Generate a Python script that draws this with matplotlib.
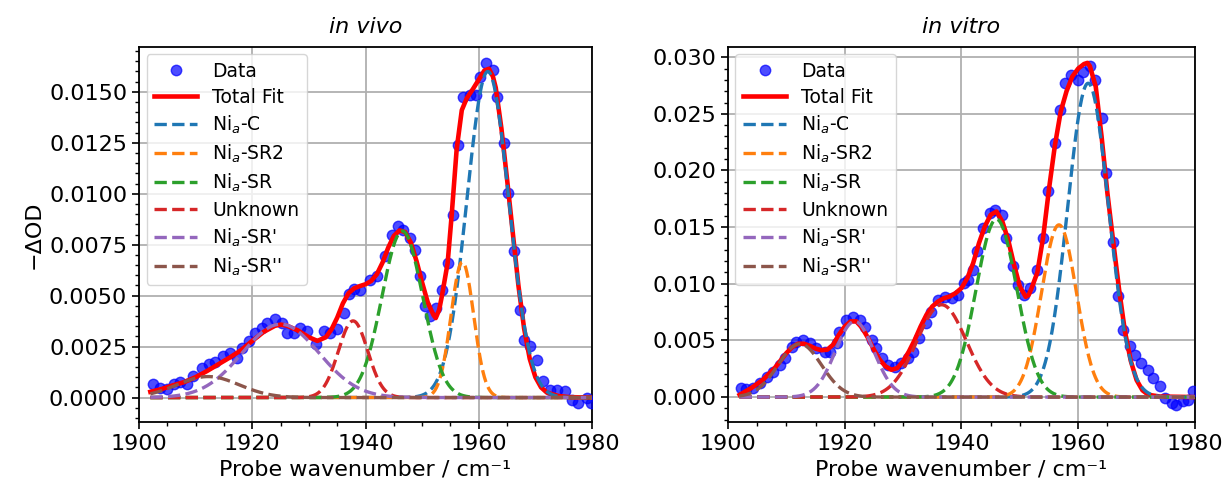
import numpy as np
import matplotlib
matplotlib.use('Agg')
import matplotlib.pyplot as plt

vivo_wn = [1902.4, 1903.7, 1904.9, 1906.1, 1907.3, 1908.4, 1909.6, 1911.1, 1912.3, 1913.5,
           1914.9, 1916.1, 1917.3, 1918.2, 1919.4, 1920.5, 1921.7, 1922.6, 1924.1, 1925.3,
           1926.1, 1927.3, 1928.5, 1929.7, 1931.2, 1932.6, 1933.8, 1935.0, 1936.2, 1937.1,
           1937.9, 1939.1, 1940.8, 1942.0, 1943.4, 1944.6, 1945.8, 1946.7, 1947.9, 1948.7,
           1949.6, 1950.5, 1951.4, 1952.4, 1953.5, 1954.5, 1955.5, 1956.4, 1957.3, 1958.5,
           1959.5, 1960.2, 1961.3, 1962.6, 1963.2, 1964.4, 1965.2, 1966.2, 1967.3, 1968.0,
           1969.0, 1970.2, 1971.4, 1972.6, 1973.8, 1975.2, 1976.4, 1977.6, 1979.1, 1979.8]
vivo_od = [0.00065, 0.00049, 0.00041, 0.00065, 0.00074, 0.00065, 0.00106, 0.00147, 0.00163, 0.00172,
           0.00204, 0.00221, 0.00196, 0.00245, 0.00278, 0.00319, 0.00343, 0.00368, 0.00384, 0.00368,
           0.00319, 0.00319, 0.00343, 0.00327, 0.00261, 0.00327, 0.00319, 0.00335, 0.00417, 0.00507,
           0.00531, 0.00529, 0.00578, 0.00595, 0.00693, 0.00799, 0.00840, 0.00824, 0.00783, 0.00725,
           0.00595, 0.00448, 0.00399, 0.00440, 0.00529, 0.00660, 0.00897, 0.01240, 0.01477, 0.01485,
           0.01485, 0.01575, 0.01640, 0.01608, 0.01477, 0.01248, 0.01003, 0.00717, 0.00431, 0.00284,
           0.00251, 0.00186, 0.00080, 0.00039, 0.00039, 0.00031, -0.00010, -0.00026, -0.00002, -0.00026]

# Curva do ajuste total - in vivo
vivo_fit_wn = [1902, 1904, 1906, 1908, 1910, 1912, 1914, 1916, 1918, 1920,
               1922, 1924, 1925, 1926, 1928, 1930, 1931.5, 1933, 1934, 1935,
               1936, 1937, 1938, 1939, 1940, 1941, 1942, 1943, 1944, 1945,
               1946, 1947, 1948, 1949, 1950, 1951, 1952, 1952.4, 1953, 1953.5,
               1954.5, 1955.2, 1956.1, 1957.0, 1957.9, 1959, 1960, 1961, 1961.8, 1962.5,
               1963, 1964, 1965, 1966, 1967, 1968, 1969, 1970, 1971, 1972,
               1974, 1976, 1980]
vivo_fit = [0.00028, 0.00042, 0.00060, 0.00076, 0.00100, 0.00130, 0.00163, 0.00196, 0.00232, 0.00278,
            0.00322, 0.00352, 0.00358, 0.00354, 0.00330, 0.00296, 0.00278, 0.00296, 0.00335, 0.00392,
            0.00462, 0.00512, 0.00536, 0.00547, 0.00556, 0.00572, 0.00605, 0.00662, 0.00735, 0.00793,
            0.00820, 0.00812, 0.00760, 0.00670, 0.00564, 0.00466, 0.00405, 0.00390, 0.00430, 0.00500,
            0.00660, 0.00890, 0.01220, 0.01410, 0.01470, 0.01515, 0.01560, 0.01605, 0.01613, 0.01575,
            0.01520, 0.01320, 0.01070, 0.00810, 0.00550, 0.00340, 0.00190, 0.00100, 0.00050, 0.00025,
            0.00008, 0.00002, 0.0]

# Dados medidos - in vitro
vitro_wn = [1902.2, 1903.1, 1904.3, 1905.4, 1906.6, 1907.7, 1908.9, 1909.7, 1910.9, 1911.7,
            1912.8, 1914.0, 1915.1, 1916.6, 1917.4, 1918.6, 1919.1, 1920.3, 1921.4, 1922.6,
            1923.4, 1924.6, 1925.4, 1926.3, 1927.4, 1928.6, 1929.7, 1930.8, 1931.7, 1932.8,
            1934.0, 1934.8, 1936.0, 1937.1, 1938.3, 1939.4, 1940.5, 1941.2, 1942.0, 1942.6,
            1943.7, 1944.9, 1945.7, 1946.9, 1947.7, 1948.9, 1949.7, 1950.7, 1951.7, 1952.9,
            1954.0, 1954.9, 1956.0, 1956.8, 1957.7, 1958.8, 1960.0, 1960.8, 1962.0, 1962.8,
            1964.0, 1964.8, 1966.0, 1966.8, 1967.7, 1968.8, 1969.7, 1970.8, 1972.0, 1972.8,
            1974.0, 1974.8, 1976.0, 1976.8, 1978.0, 1978.8, 1979.7]
vitro_od = [0.00077, 0.00068, 0.00077, 0.00121, 0.00180, 0.00224, 0.00282, 0.00341, 0.00444, 0.00488,
            0.00503, 0.00480, 0.00430, 0.00400, 0.00400, 0.00474, 0.00576, 0.00680, 0.00709, 0.00680,
            0.00621, 0.00503, 0.00430, 0.00341, 0.00282, 0.00268, 0.00297, 0.00341, 0.00400, 0.00518,
            0.00650, 0.00753, 0.00856, 0.00885, 0.00871, 0.00900, 0.01003, 0.01035, 0.01124, 0.01285,
            0.01491, 0.01624, 0.01653, 0.01609, 0.01403, 0.01153, 0.00991, 0.00903, 0.00962, 0.01124,
            0.01403, 0.01815, 0.02241, 0.02535, 0.02770, 0.02844, 0.02800, 0.02873, 0.02923, 0.02800,
            0.02462, 0.01976, 0.01373, 0.00888, 0.00594, 0.00447, 0.00374, 0.00300, 0.00241, 0.00168,
            0.00094, -0.00010, -0.00053, -0.00068, -0.00038, -0.00024, 0.00050]

# Curva do ajuste total - in vitro
vitro_fit_wn = [1902, 1904, 1906, 1908, 1910, 1911, 1912, 1913, 1914, 1915,
                1916, 1917, 1918, 1919, 1920, 1921, 1922, 1923, 1924, 1925,
                1926, 1927, 1928, 1929, 1930, 1931, 1932, 1933, 1934, 1935,
                1936, 1937, 1938, 1939, 1940, 1941, 1942, 1943, 1944, 1945,
                1946, 1947, 1948, 1949, 1950, 1951, 1951.5, 1952, 1953, 1954,
                1955, 1956, 1957, 1958, 1959, 1960, 1961, 1961.6, 1962, 1963,
                1964, 1965, 1966, 1967, 1968, 1969, 1970, 1971, 1972, 1974, 1980]
vitro_fit = [0.00020, 0.00080, 0.00153, 0.00256, 0.00388, 0.00441, 0.00471, 0.00471, 0.00453, 0.00428,
             0.00414, 0.00418, 0.00462, 0.00550, 0.00623, 0.00668, 0.00668, 0.00609, 0.00521, 0.00418,
             0.00329, 0.00271, 0.00241, 0.00256, 0.00315, 0.00403, 0.00506, 0.00623, 0.00726, 0.00800,
             0.00844, 0.00873, 0.00888, 0.00918, 0.00962, 0.01050, 0.01182, 0.01359, 0.01506, 0.01609,
             0.01638, 0.01550, 0.01388, 0.01168, 0.00976, 0.00885, 0.00900, 0.00960, 0.01100, 0.01414,
             0.01840, 0.02220, 0.02520, 0.02700, 0.02830, 0.02900, 0.02940, 0.02950, 0.02920, 0.02740,
             0.02300, 0.01800, 0.01370, 0.00950, 0.00580, 0.00320, 0.00150, 0.00060, 0.00020, 0.00005, 0.0]

# Componentes gaussianas (amplitude, centro, sigma)
labels = ['Ni$_a$-C', 'Ni$_a$-SR2', 'Ni$_a$-SR', 'Unknown', "Ni$_a$-SR'", "Ni$_a$-SR''"]
vivo_amp = [0.0160, 0.00665, 0.00817, 0.00376, 0.0036, 0.00103]
vivo_cen = [1961.6, 1957.1, 1946.5, 1937.8, 1925.0, 1912.2]
vivo_sig = [3.7, 2.0, 3.6, 2.6, 6.8, 5.5]
vitro_amp = [0.0277, 0.0152, 0.0157, 0.00815, 0.00668, 0.0047]
vitro_cen = [1961.7, 1956.7, 1946.0, 1936.6, 1921.7, 1912.3]
vitro_sig = [3.5, 3.0, 3.5, 4.25, 3.3, 3.7]

colors = ['#1f77b4', '#ff7f0e', '#2ca02c', '#d62728', '#9467bd', '#8c564b']


def gauss(x, a, c, s):
    return a * np.exp(-(x - c) ** 2 / (2 * s ** 2))


fig = plt.figure(figsize=(12.27, 4.91), dpi=100)
ax1 = fig.add_axes([0.1133, 0.1405, 0.3692, 0.7638])
ax2 = fig.add_axes([0.5933, 0.1405, 0.3806, 0.7638])

panels = [
    (ax1, 'in vivo', vivo_wn, vivo_od, vivo_fit_wn, vivo_fit, vivo_amp, vivo_cen, vivo_sig, (-0.0012, 0.0172)),
    (ax2, 'in vitro', vitro_wn, vitro_od, vitro_fit_wn, vitro_fit, vitro_amp, vitro_cen, vitro_sig, (-0.0022, 0.0309)),
]

xfit = np.linspace(1902, 1980, 600)
for ax, title, wn, od, fwn, fit, amps, cens, sigs, ylim in panels:
    ax.plot(wn, od, 'o', color='blue', alpha=0.7, markersize=7.5, label='Data', zorder=3)
    ax.plot(fwn, fit, '-', color='red', lw=3.3, label='Total Fit', zorder=4)
    for a, c, s, lab, col in zip(amps, cens, sigs, labels, colors):
        ax.plot(xfit, gauss(xfit, a, c, s), '--', color=col, lw=2.4, label=lab, zorder=5)
    ax.set_xlim(1900, 1980)
    ax.set_ylim(*ylim)
    ax.set_xticks([1900, 1920, 1940, 1960, 1980])
    ax.minorticks_on()
    ax.tick_params(which='major', labelsize=16, length=5, width=1.2)
    ax.tick_params(which='minor', length=2.8, width=1)
    ax.grid(True, which='major', color='#b0b0b0', lw=1.3)
    ax.set_xlabel('Probe wavenumber / cm⁻¹', fontsize=16)
    ax.set_title(title, fontsize=16, style='italic', pad=10)
    ax.legend(loc='upper left', fontsize=13.5, handlelength=2.3, labelspacing=0.36,
              borderaxespad=0.4)
    for sp in ax.spines.values():
        sp.set_linewidth(1.3)

ax1.set_ylabel('−ΔOD', fontsize=16)

plt.savefig('out.png', dpi=100)
